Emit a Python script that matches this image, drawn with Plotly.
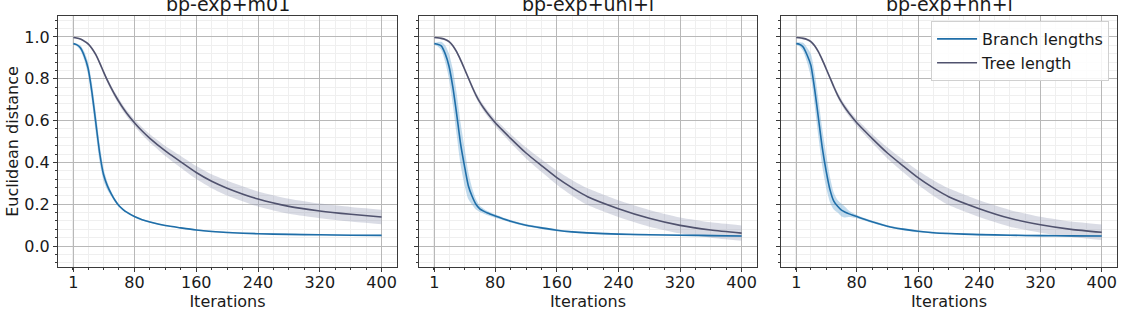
import plotly.graph_objects as go

# ---------------- data ----------------
iterations = [1, 5, 10, 15, 20, 25, 30, 35, 40, 45, 50, 55, 60, 65, 70, 80, 90, 100,
              120, 140, 160, 180, 200, 240, 280, 320, 360, 400]

panel_titles = ["bp-exp+m01", "bp-exp+uni+l", "bp-exp+nn+l"]
series_names = ["Branch lengths", "Tree length"]
x_tick_vals = [1, 80, 160, 240, 320, 400]
x_tick_text = ["1", "80", "160", "240", "320", "400"]
y_tick_vals = [0.0, 0.2, 0.4, 0.6, 0.8, 1.0]
y_tick_text = ["0.0", "0.2", "0.4", "0.6", "0.8", "1.0"]

# panel 1: bp-exp+m01
m01_branch = [0.968, 0.963, 0.948, 0.91, 0.85, 0.735, 0.59, 0.445, 0.342, 0.288, 0.25, 0.218,
              0.193, 0.176, 0.162, 0.141, 0.126, 0.115, 0.098, 0.087, 0.077, 0.070, 0.065,
              0.059, 0.056, 0.054, 0.052, 0.051]
m01_branch_sd = [0.004, 0.006, 0.012, 0.02, 0.03, 0.045, 0.05, 0.045, 0.03, 0.02, 0.012, 0.008,
                 0.006, 0.005, 0.005, 0.004, 0.004, 0.004, 0.003, 0.003, 0.003, 0.003, 0.003,
                 0.003, 0.003, 0.003, 0.003, 0.003]
m01_tree = [0.997, 0.995, 0.99, 0.98, 0.967, 0.945, 0.915, 0.876, 0.833, 0.792, 0.755, 0.721,
            0.69, 0.661, 0.635, 0.59, 0.55, 0.515, 0.455, 0.403, 0.352, 0.31, 0.277, 0.225,
            0.19, 0.168, 0.152, 0.139]
m01_tree_sd = [0.003, 0.003, 0.004, 0.005, 0.006, 0.007, 0.008, 0.009, 0.01, 0.011, 0.012,
               0.013, 0.014, 0.0145, 0.015, 0.016, 0.018, 0.02, 0.024, 0.028, 0.031, 0.033,
               0.035, 0.036, 0.036, 0.035, 0.035, 0.035]

# panel 2: bp-exp+uni+l
uni_branch = [0.968, 0.965, 0.957, 0.92, 0.86, 0.76, 0.63, 0.49, 0.385, 0.29, 0.238, 0.2, 0.178,
              0.167, 0.158, 0.144, 0.131, 0.119, 0.1, 0.087, 0.076, 0.068, 0.063, 0.057, 0.054,
              0.052, 0.05, 0.048]
uni_branch_sd = [0.005, 0.01, 0.02, 0.04, 0.06, 0.085, 0.1, 0.1, 0.09, 0.065, 0.04, 0.025,
                 0.015, 0.012, 0.01, 0.008, 0.006, 0.006, 0.005, 0.005, 0.005, 0.004, 0.004,
                 0.004, 0.004, 0.004, 0.004, 0.004]
uni_tree = [0.997, 0.996, 0.993, 0.988, 0.978, 0.958, 0.928, 0.89, 0.848, 0.805, 0.762, 0.722,
            0.688, 0.66, 0.635, 0.59, 0.552, 0.515, 0.445, 0.385, 0.327, 0.278, 0.236, 0.179,
            0.133, 0.099, 0.077, 0.062]
uni_tree_sd = [0.003, 0.003, 0.004, 0.005, 0.006, 0.007, 0.008, 0.009, 0.01, 0.011, 0.012,
               0.013, 0.014, 0.0145, 0.015, 0.017, 0.019, 0.021, 0.026, 0.03, 0.034, 0.037,
               0.04, 0.04, 0.04, 0.038, 0.037, 0.037]

# panel 3: bp-exp+nn+l
nn_branch = [0.968, 0.965, 0.952, 0.915, 0.865, 0.75, 0.61, 0.47, 0.36, 0.27, 0.215, 0.19, 0.172,
             0.162, 0.154, 0.141, 0.128, 0.116, 0.095, 0.081, 0.071, 0.064, 0.06, 0.055, 0.052,
             0.05, 0.049, 0.048]
nn_branch_sd = [0.005, 0.01, 0.02, 0.035, 0.055, 0.08, 0.09, 0.09, 0.08, 0.06, 0.04, 0.03,
                0.03, 0.025, 0.015, 0.008, 0.006, 0.006, 0.005, 0.005, 0.005, 0.004, 0.004,
                0.004, 0.004, 0.004, 0.004, 0.004]
nn_tree = [0.997, 0.996, 0.993, 0.988, 0.978, 0.958, 0.928, 0.89, 0.848, 0.805, 0.762, 0.722,
           0.688, 0.66, 0.635, 0.59, 0.552, 0.515, 0.445, 0.385, 0.327, 0.278, 0.236, 0.179,
           0.133, 0.102, 0.08, 0.066]
nn_tree_sd = [0.003, 0.003, 0.004, 0.005, 0.006, 0.007, 0.008, 0.009, 0.01, 0.011, 0.012,
              0.013, 0.014, 0.0145, 0.015, 0.017, 0.019, 0.021, 0.026, 0.03, 0.034, 0.037,
              0.04, 0.04, 0.04, 0.038, 0.037, 0.037]

panels = [
    (m01_branch, m01_branch_sd, m01_tree, m01_tree_sd),
    (uni_branch, uni_branch_sd, uni_tree, uni_tree_sd),
    (nn_branch, nn_branch_sd, nn_tree, nn_tree_sd),
]

# ---------------- styling ----------------
W, H = 1124, 316
ML, MR, MT, MB = 58, 7, 16, 49
pw = W - ML - MR
px_domains = [(58, 397), (419, 757), (781, 1117)]
domains = [((a - ML) / pw, (b - ML) / pw) for a, b in px_domains]

line_colors = ["#1f6ea8", "#50526e"]
band_colors = ["rgba(120,175,215,0.45)", "rgba(150,155,180,0.35)"]
FONT = "DejaVu Sans"
TXT = "#1a1a1a"
FS = 16
SMOOTH = 0.6

fig = go.Figure()

for p, (bm, bsd, tm, tsd) in enumerate(panels):
    xa = "x" if p == 0 else f"x{p + 1}"
    ya = "y" if p == 0 else f"y{p + 1}"
    for s, (mean, sd) in enumerate([(bm, bsd), (tm, tsd)]):
        lo = [m - d for m, d in zip(mean, sd)]
        hi = [m + d for m, d in zip(mean, sd)]
        fig.add_trace(go.Scatter(x=iterations, y=lo, xaxis=xa, yaxis=ya, mode="lines",
                                 line=dict(width=0, shape="spline", smoothing=SMOOTH),
                                 showlegend=False, hoverinfo="skip"))
        fig.add_trace(go.Scatter(x=iterations, y=hi, xaxis=xa, yaxis=ya, mode="lines",
                                 line=dict(width=0, shape="spline", smoothing=SMOOTH),
                                 fill="tonexty", fillcolor=band_colors[s],
                                 showlegend=False, hoverinfo="skip"))
    for s, mean in enumerate([bm, tm]):
        fig.add_trace(go.Scatter(x=iterations, y=mean, xaxis=xa, yaxis=ya, mode="lines",
                                 name=series_names[s],
                                 line=dict(color=line_colors[s], width=1.6, shape="spline",
                                           smoothing=SMOOTH),
                                 showlegend=(p == 2)))

axis_common = dict(showline=True, linecolor="#3a3a3a", linewidth=1, mirror=True,
                   ticks="outside", ticklen=4, tickcolor="#3a3a3a", automargin=False,
                   showgrid=True, gridcolor="#b8b8b8", gridwidth=1, zeroline=False,
                   tickfont=dict(family=FONT, size=FS, color=TXT))

layout = dict(width=W, height=H, margin=dict(l=ML, r=MR, t=MT, b=MB),
              plot_bgcolor="white", paper_bgcolor="white",
              font=dict(family=FONT, size=FS, color=TXT),
              legend=dict(x=0.9925, xanchor="right", y=0.98, yanchor="top",
                          traceorder="normal",
                          bgcolor="rgba(255,255,255,0.85)", bordercolor="#d0d0d0",
                          borderwidth=1, font=dict(family=FONT, size=FS, color=TXT),
                          tracegroupgap=0, itemwidth=40))

for p in range(3):
    xk = "xaxis" if p == 0 else f"xaxis{p + 1}"
    yk = "yaxis" if p == 0 else f"yaxis{p + 1}"
    ya = "y" if p == 0 else f"y{p + 1}"
    xa = "x" if p == 0 else f"x{p + 1}"
    layout[xk] = dict(axis_common, domain=list(domains[p]), anchor=ya, range=[-18.95, 419.95],
                      tickmode="array", tickvals=x_tick_vals, ticktext=x_tick_text,
                      ticklabelstandoff=-3,
                      minor=dict(dtick=20, tick0=0, showgrid=True, gridcolor="#efefef",
                                 ticks="outside", ticklen=2, tickcolor="#3a3a3a"),
                      title=dict(text="Iterations", standoff=0,
                                 font=dict(family=FONT, size=FS, color=TXT)))
    layout[yk] = dict(axis_common, domain=[0, 1], anchor=xa, range=[-0.1, 1.1],
                      tickmode="array", tickvals=y_tick_vals, ticktext=y_tick_text,
                      showticklabels=(p == 0),
                      minor=dict(dtick=0.04, tick0=0, showgrid=True, gridcolor="#efefef",
                                 ticks="outside", ticklen=2, tickcolor="#3a3a3a"))
    if p == 0:
        layout[yk]["title"] = dict(text="Euclidean distance", standoff=1,
                                   font=dict(family=FONT, size=FS, color=TXT))

fig.update_layout(**layout)

for p, t in enumerate(panel_titles):
    fig.add_annotation(text=t, x=(domains[p][0] + domains[p][1]) / 2, y=1, xref="paper",
                       yref="paper", xanchor="center", yanchor="bottom", yshift=-1,
                       showarrow=False, font=dict(family=FONT, size=19, color=TXT))

fig.write_html("out.html", config={"displayModeBar": False},
               post_script="document.body.style.margin='0px';")
